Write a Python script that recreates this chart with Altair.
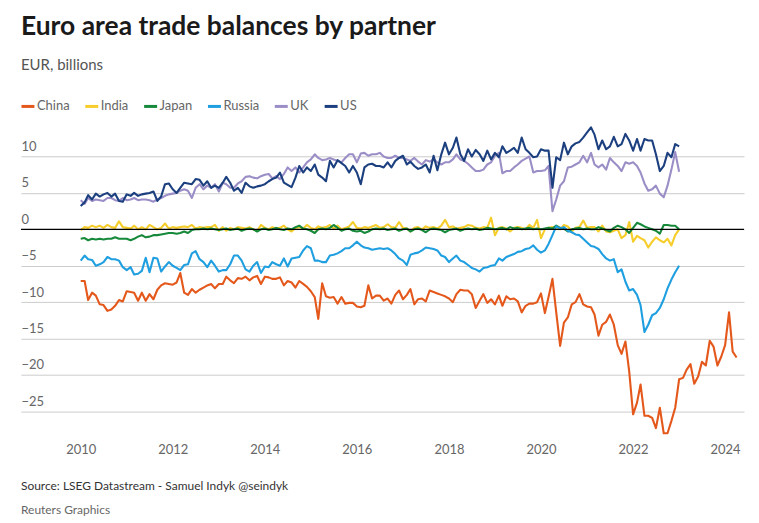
import altair as alt
import pandas as pd

# ---------------- data (EUR bn, monthly from Jan 2010) ----------------
partners = ["China", "India", "Japan", "Russia", "UK", "US"]
colors = ["#e4581c", "#f6cd2a", "#16893a", "#1f9fe0", "#9b8ec6", "#1b3f7f"]
start_month = "2010-01-01"

china = [
    -7.1, -7.1, -9.7, -8.7, -9.1, -10.3, -10.4, -11.2, -11.0, -10.5, -9.7, -9.9,
    -8.5, -8.6, -8.7, -9.8, -8.7, -9.8, -8.9, -9.6, -8.3, -7.7, -7.4, -7.5,
    -7.6, -7.3, -6.0, -8.7, -9.0, -8.2, -8.7, -8.3, -8.0, -7.7, -7.5, -8.1,
    -7.5, -7.5, -6.5, -7.0, -7.4, -6.7, -6.8, -6.5, -7.0, -6.6, -6.4, -7.5,
    -6.5, -6.6, -6.8, -6.8, -6.6, -7.7, -7.1, -7.3, -8.0, -7.1, -7.5, -7.9,
    -8.5, -9.3, -12.3, -7.4, -9.2, -9.4, -9.3, -10.2, -9.3, -10.2, -10.1, -10.1,
    -10.6, -10.7, -10.5, -7.7, -9.5, -9.1, -9.1, -9.8, -9.5, -10.2, -9.0, -8.4,
    -9.6, -9.0, -8.2, -10.3, -9.6, -9.5, -9.9, -8.4, -8.6, -8.8, -9.0, -9.2,
    -9.5, -10.0, -8.9, -8.3, -8.4, -8.4, -8.9, -10.8, -9.8, -8.9, -10.1, -9.6,
    -10.3, -9.1, -10.5, -9.2, -9.6, -9.5, -9.9, -11.4, -10.5, -10.2, -10.2, -10.0,
    -8.8, -11.5, -9.3, -6.8, -11.4, -16.0, -12.8, -12.1, -10.3, -10.0, -8.9, -10.3,
    -10.6, -10.7, -11.7, -14.6, -13.1, -12.7, -11.7, -13.1, -15.9, -17.1, -15.4, -19.5,
    -25.4, -23.8, -21.3, -25.6, -25.6, -25.9, -27.3, -24.5, -28.0, -28.0, -26.3, -24.5,
    -20.6, -20.4, -19.3, -18.5, -21.2, -20.2, -18.2, -18.7, -15.3, -16.1, -18.7, -17.5,
    -15.9, -11.4, -16.8, -17.6,
]

india = [
    -0.1, 0.3, 0.2, 0.5, 0.3, 0.5, 0.2, 0.6, 0.3, 0.2, 1.1, 0.3,
    0.2, 0.1, 0.5, 0.0, 0.3, 0.0, 0.6, 0.3, 0.0, 0.2, 0.8, 0.1,
    0.3, 0.2, 0.3, 0.4, 0.3, 0.6, 0.1, 0.3, 0.2, 0.3, 0.3, 0.6,
    -0.2, 0.3, -0.2, 0.2, 0.0, 0.3, 0.2, 0.1, 0.3, 0.0, -0.2, 0.6,
    0.2, 0.0, 0.3, 0.1, 0.2, 0.5, 0.0, -0.3, 0.2, 0.3, 0.1, 0.6,
    0.2, 0.0, 0.4, 0.2, 0.3, 0.6, 0.1, 0.5, 0.0, 0.2, 0.4, 1.0,
    0.2, 0.1, 0.3, 0.2, 0.4, 0.6, 0.2, 0.3, 0.7, 0.3, 0.2, 1.0,
    0.2, 0.1, -0.3, 0.2, 0.3, 0.0, 0.4, 0.2, 0.3, 0.1, 0.5, 1.3,
    0.3, 0.4, 0.1, 0.2, 0.3, 0.6, 0.5, 0.2, 0.1, 0.3, 0.2, 1.6,
    -0.8, 0.2, 0.3, 0.1, -0.3, 0.2, 0.3, 0.2, 0.0, 0.6, 0.2, 1.3,
    -1.2, 0.0, 0.2, 0.3, 0.1, 0.0, 0.6, 0.4, -0.3, 0.2, 0.3, 1.2,
    0.2, 0.3, 0.3, -0.3, 0.5, -0.3, -0.4, -0.2, 0.0, -1.2, -0.8, 1.0,
    -1.7, -0.9, -1.2, -1.5, -2.5, -1.7, -1.1, -1.5, -1.8, -1.3, -2.2, -0.8, 0.0,
]

japan = [
    -1.3, -1.2, -1.5, -1.3, -1.4, -1.3, -1.4, -1.3, -1.3, -1.1, -1.3, -1.3,
    -1.3, -1.5, -1.3, -1.0, -0.8, -1.1, -1.0, -0.8, -0.8, -0.7, -0.6, -0.5,
    -0.5, -0.6, -0.5, -0.3, -0.5, -0.1, 0.0, 0.0, 0.1, 0.0, 0.1, 0.0,
    -0.1, 0.0, 0.1, -0.1, 0.0, 0.1, -0.2, 0.0, 0.1, 0.0, -0.3, 0.0,
    0.1, -0.1, 0.0, 0.2, 0.0, -0.1, 0.1, 0.0, 0.3, 0.5, 0.1, 0.0,
    -0.2, -0.5, 0.0, 0.1, 0.0, 0.2, 0.6, 0.2, -0.2, 0.0, 0.1, -0.2,
    -0.3, -0.2, -0.5, -0.3, 0.0, 0.1, 0.0, 0.1, -0.1, 0.0, 0.1, -0.2,
    0.0, 0.1, -0.3, 0.0, 0.1, -0.1, -0.4, 0.0, 0.1, 0.0, -0.1, -0.4,
    -0.1, 0.0, 0.1, -0.2, 0.0, 0.1, 0.0, 0.1, -0.1, 0.0, 0.2, 0.1,
    0.0, 0.1, 0.2, 0.0, 0.3, 0.1, 0.2, 0.0, 0.1, 0.2, 0.0, 0.1,
    0.0, 0.1, 0.2, 0.1, 0.5, 0.2, 0.1, -0.3, 0.0, 0.1, 0.2, 0.0,
    0.1, 0.0, 0.0, 0.3, 0.1, -0.1, -0.3, 0.2, 0.5, 0.3, 0.0, -0.5,
    0.2, 0.9, 0.7, 0.4, 0.2, 0.0, -0.2, -0.6, 0.6, 0.6, 0.5, 0.5, 0.0,
]

russia = [
    -4.3, -3.6, -4.1, -4.2, -5.0, -4.8, -4.5, -3.8, -4.1, -4.1, -4.3, -5.2,
    -5.6, -5.2, -6.2, -6.1, -5.7, -3.9, -5.9, -3.9, -4.0, -5.8, -5.1, -4.5,
    -5.0, -5.3, -5.6, -4.9, -4.8, -3.3, -3.0, -4.1, -4.5, -5.2, -4.3, -5.0,
    -5.8, -5.6, -5.6, -4.8, -3.6, -3.6, -4.3, -5.5, -5.8, -5.0, -4.5, -6.0,
    -5.1, -5.2, -4.5, -4.8, -5.0, -4.0, -5.1, -4.0, -3.9, -3.8, -2.9, -2.3,
    -2.6, -4.3, -4.3, -4.5, -4.5, -3.6, -3.5, -3.3, -3.0, -2.6, -2.6, -2.2,
    -1.7, -2.2, -2.5, -2.6, -2.8, -2.7, -2.6, -2.7, -2.6, -2.9, -3.4, -4.0,
    -4.3, -4.9, -3.5, -3.3, -3.2, -2.9, -2.5, -2.6, -2.7, -2.9, -3.6, -3.8,
    -4.5, -4.0, -3.6, -4.3, -4.5, -4.9, -5.3, -5.5, -5.8, -5.3, -5.2, -5.0,
    -4.9, -4.0, -4.3, -3.8, -3.6, -3.4, -3.1, -3.0, -2.7, -2.6, -2.2, -2.8,
    -3.2, -2.9, -2.0, -0.8, 0.4, 0.1, 0.3, -0.2, -0.4, -0.7, -0.8, -1.3,
    -1.8, -2.3, -2.4, -2.7, -3.4, -4.0, -4.3, -4.1, -5.9, -5.5, -7.2, -8.4,
    -8.2, -9.0, -10.4, -14.1, -13.1, -11.8, -11.5, -10.8, -9.6, -8.1, -6.9, -5.9, -5.0,
]

uk = [
    4.0, 3.5, 4.3, 3.9, 4.1, 4.0, 3.9, 4.3, 4.3, 4.0, 3.9, 4.3,
    4.0, 4.1, 4.3, 4.0, 4.1, 4.1, 4.0, 3.8, 4.1, 4.3, 4.6, 4.8,
    4.9, 5.0, 5.3, 5.5, 5.3, 4.3, 5.7, 6.2, 5.5, 6.0, 5.7, 6.2,
    5.2, 6.4, 6.2, 5.7, 5.7, 6.3, 6.6, 7.2, 7.3, 7.1, 7.0, 7.3,
    7.5, 7.6, 7.0, 7.3, 6.9, 7.6, 8.5, 8.0, 8.5, 7.8, 8.5, 9.2,
    9.6, 10.3, 9.8, 9.5, 9.6, 9.8, 9.6, 9.4, 9.2, 9.8, 10.3, 10.3,
    9.2, 10.4, 10.5, 10.1, 10.3, 10.3, 10.5, 10.0, 9.8, 9.8, 10.1, 9.8,
    9.8, 9.6, 9.4, 9.8, 9.3, 8.9, 9.5, 9.3, 9.6, 9.2, 8.9, 9.2,
    9.2, 9.6, 10.3, 9.6, 9.4, 9.0, 8.5, 8.0, 8.0, 8.2, 8.9, 9.2,
    10.1, 10.5, 7.7, 8.0, 8.0, 8.5, 8.9, 9.4, 9.7, 10.0, 7.8, 8.0,
    8.0, 8.1, 8.7, 2.5, 4.1, 6.0, 6.6, 8.5, 8.6, 8.9, 9.2, 10.1,
    9.2, 10.5, 8.9, 8.5, 8.9, 8.2, 9.8, 9.2, 8.7, 8.0, 9.2, 9.0,
    9.2, 8.7, 7.8, 6.3, 5.3, 5.5, 6.0, 4.9, 4.4, 6.0, 8.2, 10.6, 7.9,
]

us = [
    3.2, 3.7, 4.7, 4.1, 4.9, 4.5, 4.8, 5.0, 4.5, 4.9, 3.9, 3.8,
    4.8, 4.6, 5.0, 4.6, 4.8, 4.9, 5.0, 5.2, 3.9, 4.5, 6.2, 6.3,
    5.5, 5.0, 5.7, 6.4, 6.3, 6.2, 6.9, 6.8, 6.0, 6.6, 5.7, 6.0,
    5.7, 6.4, 7.2, 6.4, 5.3, 5.7, 5.0, 6.4, 5.9, 5.7, 5.9, 6.0,
    6.2, 6.6, 6.9, 7.1, 7.8, 6.4, 6.1, 5.8, 7.1, 8.7, 7.8, 8.5,
    8.0, 8.9, 7.5, 7.1, 6.6, 9.4, 8.5, 9.5, 9.1, 8.7, 7.8, 8.7,
    7.8, 6.2, 8.5, 8.9, 9.0, 8.7, 8.7, 8.5, 9.2, 8.5, 9.4, 9.8,
    10.1, 8.9, 9.3, 8.7, 8.3, 8.5, 8.9, 7.8, 10.1, 8.1, 10.3, 11.9,
    10.3, 11.2, 12.6, 10.3, 9.4, 11.0, 10.0, 10.9, 10.3, 9.4, 10.8, 9.6,
    10.5, 9.9, 11.4, 10.5, 10.8, 11.2, 10.5, 12.6, 11.0, 10.5, 9.9, 10.0,
    11.0, 10.8, 10.8, 5.7, 9.9, 9.5, 11.9, 10.3, 11.4, 11.8, 12.0, 12.6,
    13.3, 14.0, 13.0, 11.0, 12.2, 11.0, 11.4, 12.7, 11.4, 11.7, 13.1, 12.2,
    10.8, 12.4, 10.8, 12.4, 12.2, 12.2, 10.3, 8.0, 8.7, 10.5, 9.9, 11.7, 11.4,
]

y_ticks = [-25, -20, -15, -10, -5, 0, 5, 10]
x_tick_years = [2010, 2012, 2014, 2016, 2018, 2020, 2022, 2024]

title_text = "Euro area trade balances by partner"
subtitle_text = "EUR, billions"
source_text = "Source: LSEG Datastream - Samuel Indyk @seindyk"
credit_text = "Reuters Graphics"

# ---------------- build table ----------------
series = {"China": china, "India": india, "Japan": japan,
          "Russia": russia, "UK": uk, "US": us}
frames = []
for p in partners:
    vals = series[p]
    frames.append(pd.DataFrame({
        "date": pd.date_range(start_month, periods=len(vals), freq="MS"),
        "partner": p,
        "value": vals,
    }))
df = pd.concat(frames, ignore_index=True)

W, H = 725, 314
FONT = "Lato"

x_scale = alt.Scale(domain=[alt.DateTime(year=2008, month=9, date=14),
                            alt.DateTime(year=2024, month=5, date=30)])
y_scale = alt.Scale(domain=[-29, 14], nice=False, zero=False)

x_axis = alt.Axis(values=[alt.DateTime(year=y, month=1, date=1) for y in x_tick_years],
                  format="%Y", grid=False, domain=False, ticks=False,
                  labelPadding=3, labelFontSize=13, labelColor="#666666",
                  labelFont=FONT, labelFlush=False, title=None)
y_axis = alt.Axis(values=y_ticks, grid=True, gridColor="#cccccc", gridWidth=1,
                  domain=False, ticks=False, labelAlign="left",
                  labelBaseline="bottom", labelPadding=0, labelOffset=-3,
                  labelFontSize=13, labelColor="#666666", labelFont=FONT,
                  title=None)

lines = alt.Chart(df).mark_line(strokeWidth=2.1, strokeJoin="round").encode(
    x=alt.X("date:T", scale=x_scale, axis=x_axis),
    y=alt.Y("value:Q", scale=y_scale, axis=y_axis),
    color=alt.Color("partner:N",
                    scale=alt.Scale(domain=partners, range=colors),
                    legend=alt.Legend(orient="none", legendX=-1, legendY=-29,
                                      direction="horizontal", title=None,
                                      padding=0,
                                      symbolType="stroke", symbolStrokeWidth=3,
                                      symbolSize=169, labelFontSize=13,
                                      labelColor="#666666", labelFont=FONT,
                                      columnPadding=9, labelOffset=1)),
)

zero = alt.Chart(pd.DataFrame({"value": [0]})).mark_rule(
    color="#000000", strokeWidth=1.2).encode(
    y=alt.Y("value:Q", scale=y_scale))

source = alt.Chart(pd.DataFrame({"t": [source_text]})).mark_text(
    align="left", baseline="middle", fontSize=12, font=FONT, color="#333333"
).encode(x=alt.value(0), y=alt.value(H + 46), text="t:N")

credit = alt.Chart(pd.DataFrame({"t": [credit_text]})).mark_text(
    align="left", baseline="middle", fontSize=12, font=FONT, color="#666666"
).encode(x=alt.value(0), y=alt.value(H + 70), text="t:N")

chart = alt.layer(lines, zero, source, credit).properties(
    width=W, height=H,
    padding={"left": 12, "top": 5, "right": 6, "bottom": 2},
    title=alt.TitleParams(text=title_text, subtitle=subtitle_text,
                          anchor="start", frame="group", font=FONT,
                          fontSize=26.5, fontWeight="bold", color="#1a1a1a",
                          subtitleFont=FONT, subtitleFontSize=15,
                          subtitleColor="#555555", subtitlePadding=17,
                          offset=26),
).configure_view(stroke=None)

chart.save("out.html", embed_options={"renderer": "svg", "actions": False})
